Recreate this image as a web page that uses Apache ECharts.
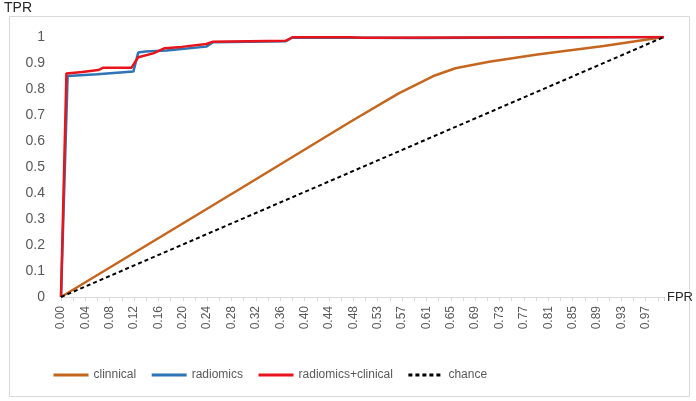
<!DOCTYPE html>
<html>
<head>
<meta charset="utf-8">
<script src="https://cdn.jsdelivr.net/npm/echarts@6/dist/echarts.min.js"></script>
<style>
  html, body { margin: 0; padding: 0; background: #fff; }
  #chart { width: 696px; height: 401px; }
</style>
</head>
<body>
<div id="chart"></div>
<script>
// x tick labels (every 4th of 100 FPR steps)
const fprTickLabels = ['0.00', '0.04', '0.08', '0.12', '0.16', '0.20', '0.24', '0.28', '0.32', '0.36',
  '0.40', '0.44', '0.48', '0.53', '0.57', '0.61', '0.65', '0.69', '0.73', '0.77',
  '0.81', '0.85', '0.89', '0.93', '0.97'];
const tickStep = 4 / 99;

// [FPR, TPR] points
const clinical = [[0, 0], [0.30, 0.42], [0.48, 0.674], [0.56, 0.783], [0.62, 0.852], [0.654, 0.88],
  [0.71, 0.905], [0.79, 0.933], [0.90, 0.965], [1, 1]];
const radiomics = [[0, 0], [0.011, 0.85], [0.06, 0.857], [0.12, 0.867], [0.128, 0.94], [0.14, 0.944],
  [0.175, 0.948], [0.241, 0.963], [0.252, 0.98], [0.373, 0.984], [0.384, 0.998], [0.60, 0.996],
  [0.77, 0.998], [1, 1]];
const radiomicsClinical = [[0, 0], [0.009, 0.86], [0.035, 0.865], [0.062, 0.873], [0.07, 0.882],
  [0.117, 0.882], [0.128, 0.922], [0.153, 0.937], [0.172, 0.957], [0.20, 0.962], [0.241, 0.973],
  [0.252, 0.982], [0.373, 0.986], [0.384, 0.999], [0.48, 0.999], [0.50, 0.997], [1, 1]];
const chance = [[0, 0], [1, 1]];

const chart = echarts.init(document.getElementById('chart'));
const font = 'Liberation Sans';

chart.setOption({
  animation: false,
  textStyle: { fontFamily: font },
  graphic: [{
    type: 'rect',
    shape: { x: 9.5, y: 16.5, width: 680, height: 380 },
    style: { fill: 'none', stroke: '#d9d9d9', lineWidth: 1 },
    silent: true
  }, {
    type: 'text',
    left: 4, top: 1,
    style: { text: 'TPR', fill: '#262626', font: '14px ' + font }
  }],
  grid: { left: 61, right: 30, top: 37, bottom: 104 },
  legend: {
    top: 364,
    left: 47,
    itemWidth: 35,
    itemHeight: 14,
    itemGap: 14,
    itemStyle: { opacity: 0 },
    lineStyle: { width: 3 },
    textStyle: { color: '#595959', fontSize: 12, fontFamily: font },
    data: ['clinnical', 'radiomics', 'radiomics+clinical', 'chance']
  },
  xAxis: {
    type: 'value',
    min: 0,
    max: 1,
    interval: tickStep,
    name: 'FPR',
    nameLocation: 'end',
    nameGap: 3,
    nameTextStyle: { color: '#262626', fontSize: 13, verticalAlign: 'middle' },
    axisLine: { lineStyle: { color: '#d9d9d9', width: 1 } },
    axisTick: { show: true, length: 4, lineStyle: { color: '#d9d9d9' } },
    minorTick: { show: true, splitNumber: 2, length: 4, lineStyle: { color: '#d9d9d9' } },
    splitLine: { show: false },
    axisLabel: {
      rotate: 90,
      color: '#595959',
      fontSize: 12,
      margin: 9,
      showMaxLabel: false,
      formatter: function (v) {
        const i = Math.round(v / tickStep);
        return i < fprTickLabels.length && Math.abs(v - i * tickStep) < 0.005 ? fprTickLabels[i] : '';
      }
    }
  },
  yAxis: {
    type: 'value',
    min: 0,
    max: 1,
    interval: 0.1,
    axisLine: { show: false },
    axisTick: { show: false },
    splitLine: { show: false },
    axisLabel: { color: '#595959', fontSize: 14, margin: 16 }
  },
  series: [
    {
      name: 'clinnical', type: 'line', data: clinical, symbol: 'none',
      lineStyle: { color: '#c5661f', width: 2.5 }, itemStyle: { color: '#c5661f' }
    },
    {
      name: 'radiomics', type: 'line', data: radiomics, symbol: 'none',
      lineStyle: { color: '#2e75b6', width: 2.5 }, itemStyle: { color: '#2e75b6' }
    },
    {
      name: 'radiomics+clinical', type: 'line', data: radiomicsClinical, symbol: 'none',
      lineStyle: { color: '#e8141c', width: 2.5 }, itemStyle: { color: '#e8141c' }
    },
    {
      name: 'chance', type: 'line', data: chance, symbol: 'none',
      lineStyle: { color: '#000', width: 2, type: [4, 3] }, itemStyle: { color: '#000' }
    }
  ]
});
</script>
</body>
</html>
